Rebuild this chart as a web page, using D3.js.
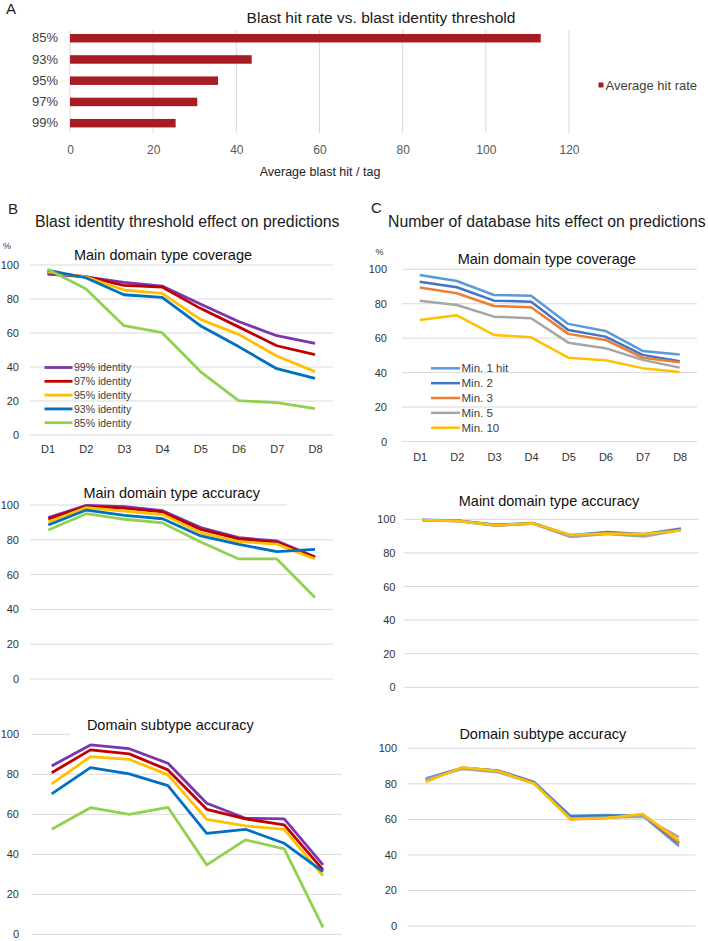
<!DOCTYPE html>
<html><head><meta charset="utf-8">
<script src="https://cdn.jsdelivr.net/npm/d3@7"></script>
<style>
body{margin:0;background:#fff;}
svg{display:block;font-family:"Liberation Sans",Arial,sans-serif;}
</style></head>
<body>
<svg id="chart" width="708" height="941"></svg>
<script>
// ---------- DATA ----------
const thresholds = ["85%","93%","95%","97%","99%"];
const avgHitRate = [113.2, 43.7, 35.6, 30.6, 25.4];
const hitTicks = [0,20,40,60,80,100,120];

const dCategories = ["D1","D2","D3","D4","D5","D6","D7","D8"];
const pctTicks = [0,20,40,60,80,100];

const identityLabels = ["99% identity","97% identity","95% identity","93% identity","85% identity"];
const identityColors = ["#7B35B0","#C00000","#FFC000","#0070C0","#92D050"];
const bCoverage = [
  [94.7, 93.0, 89.8, 87.6, 77.0, 66.8, 58.4, 53.9],
  [95.5, 93.2, 88.0, 87.0, 74.5, 63.6, 52.5, 47.3],
  [96.0, 93.0, 85.3, 83.3, 68.0, 59.2, 46.5, 37.3],
  [97.0, 92.5, 82.5, 81.0, 64.3, 52.0, 39.0, 33.3],
  [97.5, 86.0, 64.3, 60.2, 37.3, 20.2, 19.0, 15.5]
];
const bAccuracy = [
  [92.7, 99.8, 99.0, 96.7, 87.0, 81.2, 79.3, 70.3],
  [92.0, 99.2, 98.2, 96.0, 86.0, 80.5, 78.5, 69.8],
  [90.2, 98.5, 96.5, 94.5, 84.0, 79.0, 77.5, 69.0],
  [88.5, 97.1, 94.0, 92.1, 82.2, 77.4, 73.2, 74.5],
  [85.6, 95.0, 91.8, 89.7, 78.7, 69.0, 69.0, 46.9]
];
const bSubtype = [
  [84.2, 94.7, 92.8, 85.5, 65.5, 58.0, 57.7, 34.7],
  [80.8, 92.2, 90.2, 82.2, 62.5, 57.7, 54.7, 32.2],
  [75.2, 88.8, 87.5, 79.7, 57.5, 54.2, 52.5, 29.2],
  [70.2, 83.3, 80.2, 74.3, 50.5, 52.5, 45.5, 31.3],
  [52.5, 63.3, 60.0, 63.5, 34.7, 47.2, 42.7, 3.5]
];

const hitsLabels = ["Min. 1 hit","Min. 2","Min. 3","Min. 5","Min. 10"];
const hitsColors = ["#5B9BD5","#4472C4","#ED7D31","#A5A5A5","#FFC000"];
const cCoverage = [
  [96.7, 93.2, 85.1, 84.7, 68.3, 64.2, 52.6, 50.5],
  [92.8, 89.6, 81.8, 81.2, 64.8, 60.9, 50.3, 46.6],
  [89.4, 86.1, 78.7, 77.9, 62.5, 59.0, 48.7, 46.0],
  [81.8, 79.3, 72.5, 71.6, 57.4, 54.2, 47.4, 42.9],
  [70.6, 73.3, 61.9, 60.5, 48.7, 47.2, 42.6, 40.4]
];
const cAccuracy = [
  [99.7, 99.2, 96.8, 97.8, 90.5, 92.5, 91.2, 94.6],
  [99.6, 99.1, 96.6, 97.7, 90.3, 92.2, 91.0, 94.3],
  [99.5, 99.0, 96.3, 97.5, 89.8, 91.5, 90.3, 93.8],
  [99.5, 98.9, 96.2, 97.4, 89.5, 91.3, 89.8, 93.6],
  [99.6, 99.0, 96.5, 97.6, 90.8, 91.6, 91.2, 93.4]
];
const cSubtype = [
  [83.0, 89.0, 87.5, 81.0, 62.0, 62.5, 62.0, 45.0],
  [82.5, 89.0, 87.3, 80.8, 61.5, 62.0, 62.2, 46.5],
  [82.0, 88.8, 87.0, 80.5, 60.0, 60.8, 62.5, 47.0],
  [82.5, 88.3, 86.5, 80.2, 60.5, 61.0, 61.5, 50.0],
  [81.0, 89.3, 87.2, 80.0, 60.2, 60.8, 63.0, 48.0]
];

// ---------- DRAW ----------
const svg = d3.select("#chart");
const FONT = '"Liberation Sans",Arial,sans-serif';
const GRID = "#D9D9D9";

// Panel A
svg.append("text").attr("x",6).attr("y",14).attr("font-size",15).attr("fill","#222").text("A");
svg.append("text").attr("x",381).attr("y",23).attr("text-anchor","middle")
  .attr("font-size",15.5).attr("fill","#1a1a1a").text("Blast hit rate vs. blast identity threshold");
const ax = d3.scaleLinear().domain([0,120]).range([70,569]);
const ay = d3.scaleBand().domain(thresholds).range([27.6,133.8]).paddingInner(0.6).paddingOuter(0.3);
const gA = svg.append("g");
gA.selectAll("line.grid").data(hitTicks).join("line")
  .attr("x1",d=>ax(d)).attr("x2",d=>ax(d)).attr("y1",30).attr("y2",133)
  .attr("stroke",GRID).attr("stroke-width",1);
gA.selectAll("rect").data(thresholds).join("rect")
  .attr("x",ax(0)).attr("y",d=>ay(d)).attr("height",ay.bandwidth())
  .attr("width",(d,i)=>ax(avgHitRate[i])-ax(0)).attr("fill","#A61C22");
const axA = gA.append("g").attr("transform","translate(0,145)")
  .call(d3.axisBottom(ax).tickValues(hitTicks).tickSize(0).tickPadding(0));
axA.select(".domain").remove();
axA.selectAll("text").attr("font-size",12).attr("fill","#595959").attr("font-family",FONT).attr("dy","0.71em");
const ayA = gA.append("g").attr("transform","translate(58,0)")
  .call(d3.axisLeft(ay).tickSize(0).tickPadding(0));
ayA.select(".domain").remove();
ayA.selectAll("text").attr("font-size",13).attr("fill","#404040").attr("font-family",FONT);
svg.append("text").attr("x",320).attr("y",176).attr("text-anchor","middle")
  .attr("font-size",12.5).attr("fill","#222").text("Average blast hit / tag");
svg.append("rect").attr("x",598.5).attr("y",82.5).attr("width",5).attr("height",5).attr("fill","#A61C22");
svg.append("text").attr("x",605.5).attr("y",89.5).attr("font-size",13).attr("fill","#404040").text("Average hit rate");

// Panel headers
svg.append("text").attr("x",8).attr("y",213.5).attr("font-size",15).attr("fill","#222").text("B");
svg.append("text").attr("x",35).attr("y",227).attr("font-size",15.8).attr("fill","#1a1a1a")
  .text("Blast identity threshold effect on predictions");
svg.append("text").attr("x",371).attr("y",212.5).attr("font-size",15).attr("fill","#222").text("C");
svg.append("text").attr("x",388).attr("y",227).attr("font-size",15.8).attr("fill","#1a1a1a")
  .text("Number of database hits effect on predictions");
svg.append("text").attr("x",3).attr("y",249).attr("font-size",9).attr("fill","#333").text("%");
svg.append("text").attr("x",375.5).attr("y",255).attr("font-size",9).attr("fill","#333").text("%");

function lineChart(cfg){
  const g = svg.append("g");
  const x = d3.scalePoint().domain(dCategories).range(cfg.pts);
  const y = d3.scaleLinear().domain([0,100]).range(cfg.yr);
  g.selectAll("line.grid").data(pctTicks).join("line")
    .attr("x1",cfg.grid[0]).attr("x2",cfg.grid[1])
    .attr("y1",d=>y(d)).attr("y2",d=>y(d)).attr("stroke",GRID).attr("stroke-width",1);
  if(cfg.mask){
    g.append("rect").attr("x",cfg.mask[0]).attr("width",cfg.mask[1]-cfg.mask[0])
      .attr("y",y(100)-2).attr("height",4).attr("fill","#fff");
  }
  const ya = g.append("g").attr("transform",`translate(${cfg.lblX},0)`)
    .call(d3.axisLeft(y).tickValues(pctTicks).tickSize(0).tickPadding(0));
  ya.select(".domain").remove();
  ya.selectAll("text").attr("font-size",11).attr("fill","#333").attr("font-family",FONT);
  if(cfg.xlab){
    const xa = g.append("g").attr("transform",`translate(0,${cfg.xlab})`)
      .call(d3.axisBottom(x).tickSize(0).tickPadding(0));
    xa.select(".domain").remove();
    xa.selectAll("text").attr("font-size",11).attr("fill","#333").attr("font-family",FONT).attr("dy",0);
  }
  g.append("text").attr("x",cfg.title[0]).attr("y",cfg.title[1]).attr("text-anchor","middle")
    .attr("font-size",14.5).attr("fill","#111").text(cfg.name);
  const line = d3.line().x((d,i)=>x(dCategories[i])).y(d=>y(d));
  g.selectAll("path.s").data(cfg.series).join("path")
    .attr("d",line).attr("fill","none").attr("stroke",(d,i)=>cfg.colors[i])
    .attr("stroke-width",cfg.sw).attr("stroke-linejoin","round");
  if(cfg.legend){
    const L = cfg.legend;
    const lg = g.append("g");
    cfg.labels.forEach((lab,i)=>{
      const yy = L.y0 + i*L.dy;
      lg.append("line").attr("x1",L.x0).attr("x2",L.x1).attr("y1",yy).attr("y2",yy)
        .attr("stroke",cfg.colors[i]).attr("stroke-width",cfg.sw);
      lg.append("text").attr("x",L.x1+1.5).attr("y",yy+3.8).attr("font-size",L.fs)
        .attr("fill","#404040").text(lab);
    });
  }
}

lineChart({name:"Main domain type coverage",series:bCoverage,colors:identityColors,labels:identityLabels,
  pts:[47.5,315],grid:[30,333],yr:[435,265],lblX:19,xlab:453,title:[163,260],sw:2.8,
  legend:{x0:44.5,x1:72.5,y0:367.5,dy:13.8,fs:10.5}});
lineChart({name:"Main domain type accuracy",series:bAccuracy,colors:identityColors,
  pts:[48.3,315],grid:[30,333],yr:[679,505],lblX:19,title:[171.7,497.5],sw:2.8,mask:[287,334]});
lineChart({name:"Domain subtype accuracy",series:bSubtype,colors:identityColors,
  pts:[51.7,323],grid:[31.7,341.7],yr:[934.3,734.3],lblX:19,title:[170.3,730],sw:2.8,mask:[70,342]});

lineChart({name:"Main domain type coverage",series:cCoverage,colors:hitsColors,labels:hitsLabels,
  pts:[419.7,679.7],grid:[402,697],yr:[441.5,269.3],lblX:387,xlab:460.5,title:[546.8,263.5],sw:2.5,
  legend:{x0:431,x1:460,y0:368.3,dy:14.85,fs:11.5}});
lineChart({name:"Maint domain type accuracy",series:cAccuracy,colors:hitsColors,
  pts:[422,681],grid:[404,699],yr:[687.3,519.3],lblX:395.5,title:[549,505.7],sw:2.5});
lineChart({name:"Domain subtype accuracy",series:cSubtype,colors:hitsColors,
  pts:[425.7,679],grid:[407.3,695.7],yr:[926,748.3],lblX:397,title:[542.8,739.3],sw:2.5});
</script>
</body></html>
